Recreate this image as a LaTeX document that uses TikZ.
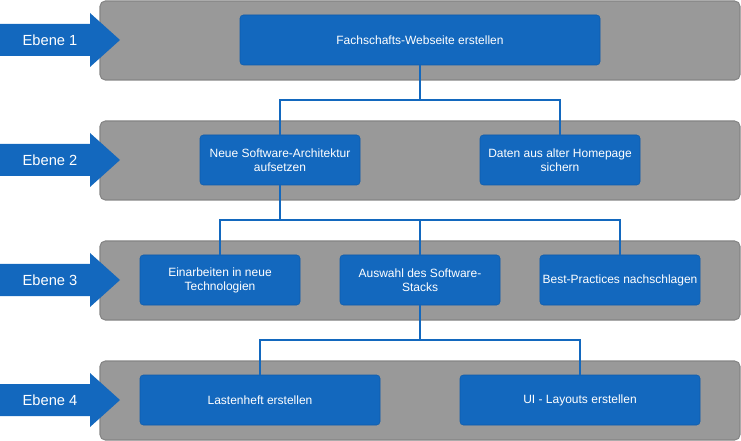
\documentclass[tikz,border=0pt]{standalone}
\usepackage{fontspec}
\setmainfont{Liberation Sans}
\definecolor{taskblue}{HTML}{1368BE}
\definecolor{taskedge}{HTML}{0F5CAB}
\definecolor{panelgray}{HTML}{999999}
\definecolor{paneledge}{HTML}{858585}
\begin{document}
\begin{tikzpicture}[x=0.75pt, y=-0.75pt,
    panel/.style ={fill=panelgray, draw=paneledge, line width=0.8pt, rounded corners=4pt},
    task/.style ={rectangle, fill=taskblue, draw=taskedge, rounded corners=2.5pt,
      minimum width=120pt, minimum height=37.5pt, inner sep=2pt, text=white, align=center,
      font=\fontsize{9pt}{10.5pt}\selectfont},
    wide/.style ={task, minimum width=180pt},
    ebene/.style ={fill=taskblue},
    ebenetext/.style ={text=white, font=\fontsize{11pt}{13pt}\selectfont},
    conn/.style ={draw=taskblue, line width=1.5pt}]
   \useasboundingbox (0,0) rectangle (741,441);
   % levels
   \draw[panel] (100,1) rectangle (740,80);
   \draw[panel] (100,121) rectangle (740,200);
   \draw[panel] (100,241) rectangle (740,320);
   \draw[panel] (100,361) rectangle (740,440);
   \fill[ebene] (0,24) -- (90,24) -- (90,13) -- (120,40) -- (90,67) -- (90,56) -- (0,56) -- cycle;
   \fill[ebene] (0,144) -- (90,144) -- (90,133) -- (120,160) -- (90,187) -- (90,176) -- (0,176) -- cycle;
   \fill[ebene] (0,264) -- (90,264) -- (90,253) -- (120,280) -- (90,307) -- (90,296) -- (0,296) -- cycle;
   \fill[ebene] (0,384) -- (90,384) -- (90,373) -- (120,400) -- (90,427) -- (90,416) -- (0,416) -- cycle;
   \node[ebenetext] (e1) at (50,40) {Ebene 1};
   \node[ebenetext] (e2) at (50,160) {Ebene 2};
   \node[ebenetext] (e3) at (50,280) {Ebene 3};
   \node[ebenetext] (e4) at (50,400) {Ebene 4};
   % tasks
   \node[task, minimum width=270pt] (web) at (420,40) {Fachschafts-Webseite erstellen};
   \node[task] (arch) at (280,160) {Neue Software-Architektur\\aufsetzen};
   \node[task] (daten) at (560,160) {Daten aus alter Homepage\\sichern};
   \node[task] (tech) at (220,280) {Einarbeiten in neue\\Technologien};
   \node[task] (stack) at (420,280) {Auswahl des Software-\\Stacks};
   \node[task] (best) at (620,280) {Best-Practices nachschlagen};
   \node[wide] (lasten) at (260,400) {Lastenheft erstellen};
   \node[wide] (ui) at (580,400) {UI - Layouts erstellen};
   % connectors
   \draw[conn] (web.south) -- ++(0,35) -| (arch.north);
   \draw[conn] (web.south) -- ++(0,35) -| (daten.north);
   \draw[conn] (arch.south) -- ++(0,35) -| (tech.north);
   \draw[conn] (arch.south) -- ++(0,35) -| (stack.north);
   \draw[conn] (arch.south) -- ++(0,35) -| (best.north);
   \draw[conn] (stack.south) -- ++(0,35) -| (lasten.north);
   \draw[conn] (stack.south) -- ++(0,35) -| (ui.north);
 \end{tikzpicture}
\end{document}
